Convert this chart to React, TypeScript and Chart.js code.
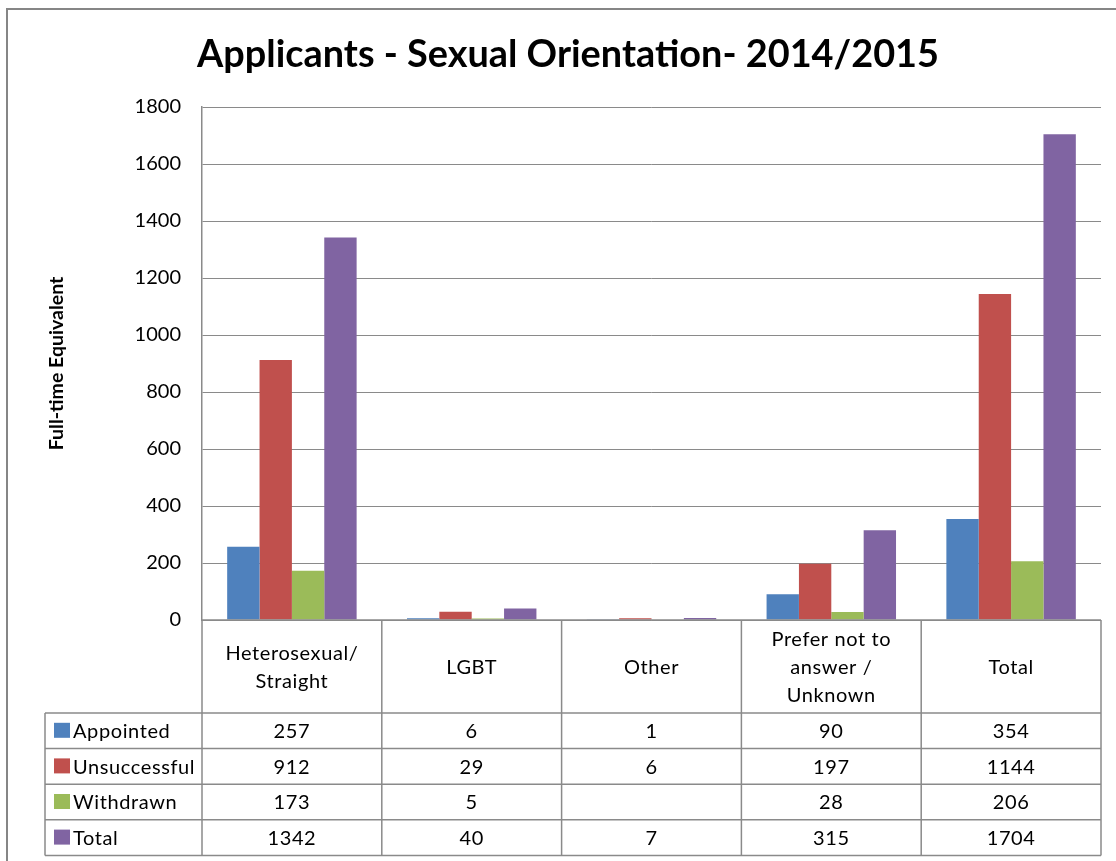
import React, { useEffect, useRef } from "react";
import { Chart, registerables } from "chart.js";

Chart.register(...registerables);

const chartTitle = "Applicants - Sexual Orientation- 2014/2015";
const yAxisTitle = "Full-time Equivalent";
const categories: string[][] = [
  ["Heterosexual/", "Straight"],
  ["LGBT"],
  ["Other"],
  ["Prefer not to", "answer /", "Unknown"],
  ["Total"],
];
const seriesNames = ["Appointed", "Unsuccessful", "Withdrawn", "Total"];
const seriesColors = ["#4F81BD", "#C0504D", "#9BBB59", "#8064A2"];
const appointed: (number | null)[] = [257, 6, 1, 90, 354];
const unsuccessful: (number | null)[] = [912, 29, 6, 197, 1144];
const withdrawn: (number | null)[] = [173, 5, null, 28, 206];
const total: (number | null)[] = [1342, 40, 7, 315, 1704];
const seriesValues = [appointed, unsuccessful, withdrawn, total];
const yMax = 1800;
const yStep = 200;

const FONT = "Lato, 'Open Sans', sans-serif";
const LINE = "#8a8a8a";

const decorPlugin = {
  id: "decor",
  beforeDraw(chart: any) {
    const ctx = chart.ctx;
    ctx.save();
    ctx.fillStyle = "#ffffff";
    ctx.fillRect(0, 0, chart.width, chart.height);
    ctx.restore();
  },
  afterDraw(chart: any) {
    const ctx = chart.ctx;
    const area = chart.chartArea;
    const xs = chart.scales.x;
    ctx.save();
    // outer frame
    ctx.strokeStyle = "#868686";
    ctx.lineWidth = 2;
    ctx.beginPath();
    ctx.moveTo(7, chart.height);
    ctx.lineTo(7, 9);
    ctx.lineTo(chart.width, 9);
    ctx.stroke();

    // title, stretched to the reference width
    ctx.save();
    ctx.fillStyle = "#000";
    ctx.font = `bold 38px ${FONT}`;
    ctx.textAlign = "left";
    ctx.textBaseline = "alphabetic";
    const targetW = 742;
    const w = ctx.measureText(chartTitle).width;
    ctx.translate(197, 67);
    ctx.scale(targetW / w, 1);
    ctx.fillText(chartTitle, 0, 0);
    ctx.restore();

    // data table
    const n = categories.length;
    const bounds: number[] = [area.left];
    for (let i = 0; i < n - 1; i++) {
      bounds.push((xs.getPixelForValue(i) + xs.getPixelForValue(i + 1)) / 2);
    }
    bounds.push(area.right);
    const top = area.bottom;
    const headerH = 93;
    const rowH = 35.6;
    const rowsTop = top + headerH;
    const tableLeft = 45;
    const nRows = seriesNames.length;
    const bottom = rowsTop + rowH * nRows;

    ctx.strokeStyle = LINE;
    ctx.lineWidth = 1.5;
    ctx.beginPath();
    ctx.moveTo(area.left, top);
    ctx.lineTo(area.right, top);
    for (const b of bounds) {
      ctx.moveTo(b, top);
      ctx.lineTo(b, bottom);
    }
    ctx.moveTo(tableLeft, rowsTop);
    ctx.lineTo(tableLeft, bottom);
    for (let r = 0; r <= nRows; r++) {
      const y = rowsTop + rowH * r;
      ctx.moveTo(tableLeft, y);
      ctx.lineTo(area.right, y);
    }
    ctx.stroke();

    ctx.fillStyle = "#000";
    ctx.font = `20px ${FONT}`;
    (ctx as any).letterSpacing = "0.6px";
    ctx.textAlign = "center";
    ctx.textBaseline = "middle";
    const headerMid = top + headerH / 2 + 1;
    const lh = 28;
    for (let i = 0; i < n; i++) {
      const cx = (bounds[i] + bounds[i + 1]) / 2;
      const lines = categories[i];
      const start = headerMid - ((lines.length - 1) * lh) / 2;
      lines.forEach((t, k) => ctx.fillText(t, cx, start + k * lh));
    }
    for (let r = 0; r < nRows; r++) {
      const cy = rowsTop + rowH * r + rowH / 2;
      ctx.fillStyle = seriesColors[r];
      ctx.fillRect(54, cy - 8, 16, 15);
      ctx.fillStyle = "#000";
      ctx.textAlign = "left";
      ctx.fillText(seriesNames[r], 73, cy + 1);
      ctx.textAlign = "center";
      const vals = seriesValues[r];
      for (let i = 0; i < n; i++) {
        const v = vals[i];
        if (v === null || v === undefined) continue;
        const cx = (bounds[i] + bounds[i + 1]) / 2;
        ctx.fillText(String(v), cx, cy + 1);
      }
    }
    ctx.restore();
  },
};

export default function App() {
  const ref = useRef<HTMLCanvasElement | null>(null);
  useEffect(() => {
    if (!ref.current) return;
    const chart = new Chart(ref.current, {
      type: "bar",
      data: {
        labels: categories.map((c) => c.join(" ")),
        datasets: seriesNames.map((name, i) => ({
          label: name,
          data: seriesValues[i],
          backgroundColor: seriesColors[i],
          borderWidth: 0,
          categoryPercentage: 0.72,
          barPercentage: 1,
        })),
      },
      options: {
        animation: false,
        responsive: false,
        layout: { padding: { left: 41, top: 107, right: 15, bottom: 241 } },
        plugins: {
          legend: { display: false },
          title: { display: false },
          tooltip: { enabled: false },
        },
        scales: {
          x: {
            display: true,
            ticks: { display: false },
            grid: { display: false, drawTicks: false },
            border: { display: false },
            afterFit: (s: any) => {
              s.height = 0;
            },
          },
          y: {
            min: 0,
            max: yMax,
            ticks: {
              stepSize: yStep,
              padding: 21,
              color: "#000",
              font: { family: FONT, size: 20 },
              callback: (v: any) => String(v),
            },
            grid: { color: LINE, lineWidth: 1, drawTicks: false },
            border: { display: true, color: LINE, width: 1.5 },
            title: {
              display: true,
              text: yAxisTitle,
              color: "#000",
              font: { family: FONT, size: 19.5, weight: "bold" },
            },
            afterFit: (s: any) => {
              s.width = 161;
            },
          },
        },
      },
      plugins: [decorPlugin],
    });
    return () => chart.destroy();
  }, []);
  return (
    <div style={{ position: "absolute", left: 0, top: 0, width: 1116, height: 861 }}>
      <canvas ref={ref} width={1116} height={861} style={{ display: "block" }} />
    </div>
  );
}
